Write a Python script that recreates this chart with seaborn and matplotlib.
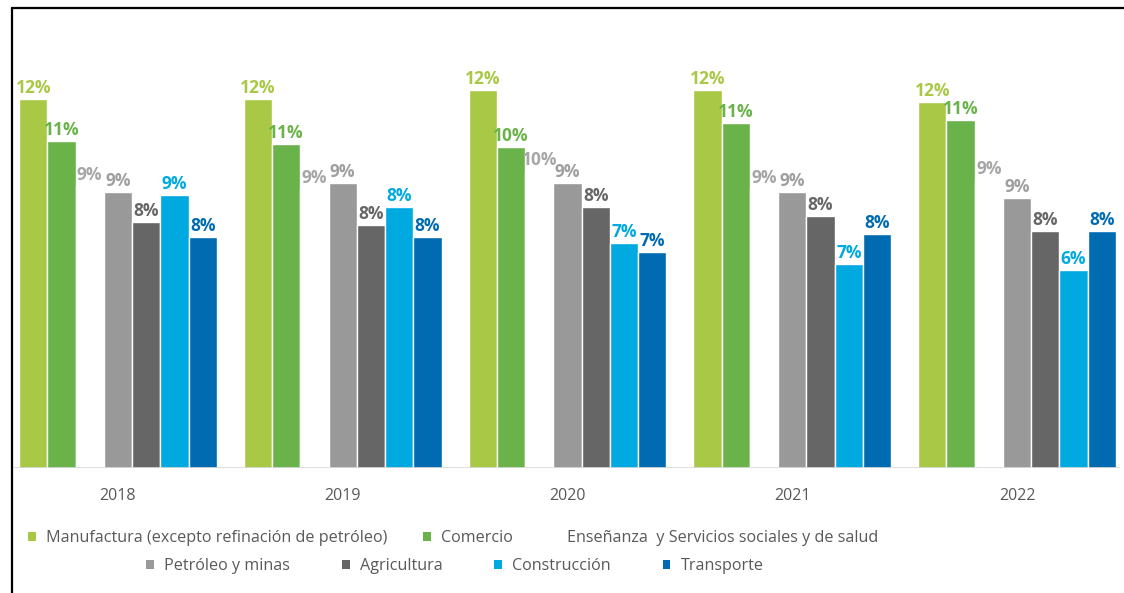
#!/usr/bin/env python3
"""
Participación por sector, 2018-2022.

Grouped bar chart (one group per year, one bar per sector) with the
percentage printed on top of every bar and a two-row legend underneath.
"""

import matplotlib.patches as mpatches
import matplotlib.pyplot as plt
import pandas as pd
import seaborn as sns
from matplotlib.lines import Line2D

OUTPUT_FILENAME = "out.png"

# --- Data ---
YEARS = ["2018", "2019", "2020", "2021", "2022"]

SECTORS = [
    "Manufactura (excepto refinación de petróleo)",
    "Comercio",
    "Enseñanza  y Servicios sociales y de salud",
    "Petróleo y minas",
    "Agricultura",
    "Construcción",
    "Transporte",
]

# Bar heights, in percent
MANUFACTURA = [12.3, 12.3, 12.6, 12.6, 12.2]
COMERCIO = [10.9, 10.8, 10.7, 11.5, 11.6]
ENSENANZA = [9.4, 9.3, 9.9, 9.3, 9.6]
PETROLEO = [9.2, 9.5, 9.5, 9.2, 9.0]
AGRICULTURA = [8.2, 8.1, 8.7, 8.4, 7.9]
CONSTRUCCION = [9.1, 8.7, 7.5, 6.8, 6.6]
TRANSPORTE = [7.7, 7.7, 7.2, 7.8, 7.9]

# Labels as printed in the source
MANUFACTURA_LBL = ["12%", "12%", "12%", "12%", "12%"]
COMERCIO_LBL = ["11%", "11%", "10%", "11%", "11%"]
ENSENANZA_LBL = ["9%", "9%", "10%", "9%", "9%"]
PETROLEO_LBL = ["9%", "9%", "9%", "9%", "9%"]
AGRICULTURA_LBL = ["8%", "8%", "8%", "8%", "8%"]
CONSTRUCCION_LBL = ["9%", "8%", "7%", "7%", "6%"]
TRANSPORTE_LBL = ["8%", "8%", "7%", "8%", "8%"]

# --- Styles ---
BAR_COLORS = ["#a9c846", "#6ab34b", "#ffffff", "#999999", "#666666", "#00a9e0", "#006bb0"]
LABEL_COLORS = ["#a9c846", "#6ab34b", "#a6a6a6", "#9f9f9f", "#666666", "#00a9e0", "#006bb0"]
TEXT_GRAY = "#595959"


def build_frame() -> pd.DataFrame:
    values = [MANUFACTURA, COMERCIO, ENSENANZA, PETROLEO,
              AGRICULTURA, CONSTRUCCION, TRANSPORTE]
    labels = [MANUFACTURA_LBL, COMERCIO_LBL, ENSENANZA_LBL, PETROLEO_LBL,
              AGRICULTURA_LBL, CONSTRUCCION_LBL, TRANSPORTE_LBL]
    rows = []
    for sector, vals, lbls in zip(SECTORS, values, labels):
        for year, v, l in zip(YEARS, vals, lbls):
            rows.append({"year": year, "sector": sector, "value": v, "label": l})
    return pd.DataFrame(rows)


def main():
    df = build_frame()

    sns.set_theme(style="white")
    plt.rcParams["font.family"] = ["Open Sans", "DejaVu Sans"]

    fig = plt.figure(figsize=(11.24, 5.93), dpi=100)
    ax = fig.add_axes([13 / 1124, 124.7 / 593, 1107 / 1124, 420 / 593])

    sns.barplot(
        data=df,
        x="year",
        y="value",
        hue="sector",
        order=YEARS,
        hue_order=SECTORS,
        palette=BAR_COLORS,
        saturation=1,
        width=0.88,
        legend=False,
        ax=ax,
    )

    # Percent labels on top of the bars
    for i, container in enumerate(ax.containers):
        sector_df = df[df["sector"] == SECTORS[i]].set_index("year").loc[YEARS]
        ax.bar_label(
            container,
            labels=list(sector_df["label"]),
            padding=2,
            fontsize=12.5,
            fontweight="bold",
            color=LABEL_COLORS[i],
        )

    ax.set_xlim(-0.467, 4.458)
    ax.set_ylim(0, 14)
    ax.axhline(0, color="#d9d9d9", lw=1.2, zorder=3)
    sns.despine(ax=ax, left=True, bottom=True)
    ax.set_yticks([])
    ax.set_xlabel("")
    ax.set_ylabel("")
    ax.tick_params(axis="x", length=0, pad=14, labelsize=11.5, labelcolor=TEXT_GRAY)

    # Legend: two centred rows (3 + 4 entries)
    handles = [mpatches.Patch(facecolor=c, edgecolor="none") for c in BAR_COLORS]
    common = dict(
        loc="center",
        frameon=False,
        fontsize=11.6,
        handlelength=0.47,
        handleheight=0.47,
        handletextpad=0.65,
        labelcolor=TEXT_GRAY,
        borderpad=0,
    )
    fig.legend(handles[:3], SECTORS[:3], ncol=3, columnspacing=2.2,
               bbox_to_anchor=(453 / 1124, 1 - 538 / 593), **common)
    fig.legend(handles[3:], SECTORS[3:], ncol=4, columnspacing=3.2,
               bbox_to_anchor=(455 / 1124, 1 - 566.5 / 593), **common)

    # Screenshot frame (top and left edges)
    fig.add_artist(Line2D([12 / 1124, 1], [1 - 8 / 593, 1 - 8 / 593],
                          transform=fig.transFigure, color="black", lw=1.6))
    fig.add_artist(Line2D([12 / 1124, 12 / 1124], [0, 1 - 8 / 593],
                          transform=fig.transFigure, color="black", lw=1.6))

    fig.savefig(OUTPUT_FILENAME, dpi=100)


if __name__ == "__main__":
    main()
